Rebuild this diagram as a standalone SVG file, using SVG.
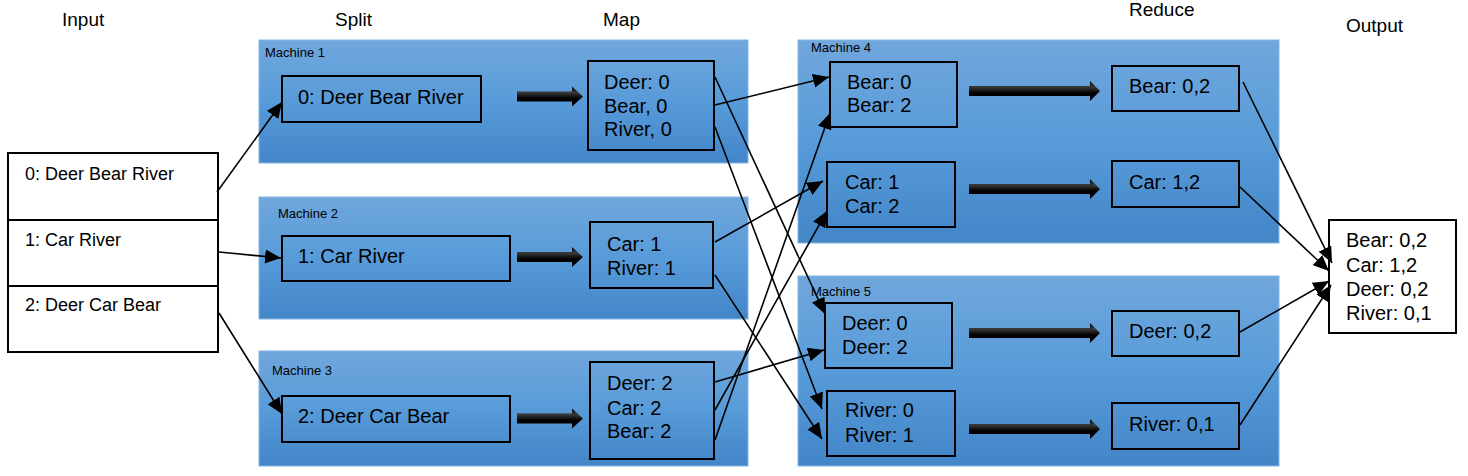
<svg xmlns="http://www.w3.org/2000/svg" width="1468" height="476" viewBox="0 0 1468 476">
<style>
text{font-family:"Liberation Sans",Arial,sans-serif;fill:#000}
.hdr{font-size:19px}
.lbl{font-size:13px}
.t{font-size:20px}
.ti{font-size:18px}
.panel{fill:url(#pg);stroke:#86b6e3;stroke-width:1}
.box{fill:none;stroke:#000;stroke-width:2}
.wbox{fill:#fff;stroke:#000;stroke-width:2}
.con{fill:none;stroke:#000;stroke-width:1.6;marker-end:url(#ah)}
.fat{fill:url(#ag)}
</style>
<defs>
<linearGradient id="pg" x1="0" y1="0" x2="0" y2="1">
<stop offset="0" stop-color="#70a7dc"/>
<stop offset="0.5" stop-color="#589bd9"/>
<stop offset="1" stop-color="#4386c8"/>
</linearGradient>
<linearGradient id="ag" x1="0" y1="0" x2="0" y2="1">
<stop offset="0" stop-color="#000"/>
<stop offset="0.3" stop-color="#3a3a3a"/>
<stop offset="0.6" stop-color="#000"/>
<stop offset="1" stop-color="#000"/>
</linearGradient>
<marker id="ah" viewBox="0 0 16 14" markerUnits="userSpaceOnUse" markerWidth="16" markerHeight="14" refX="16" refY="7" orient="auto">
<path d="M0,0 L16,7 L0,14 Z" fill="#000"/>
</marker>
<path id="fa" d="M0,-5 H55 V-10 L66,0 L55,10 V5 H0 Z"/>
<path id="fb" d="M0,-5 H121 V-10 L131,0 L121,10 V5 H0 Z"/>
</defs>

<g id="headers">
<text class="hdr" x="62" y="26">Input</text>
<text class="hdr" x="335" y="26">Split</text>
<text class="hdr" x="603" y="26">Map</text>
<text class="hdr" x="1129" y="16">Reduce</text>
<text class="hdr" x="1346" y="32">Output</text>
</g>

<g id="machine1">
<rect class="panel" x="259" y="40" width="489" height="123"/>
<text class="lbl" x="265" y="57">Machine 1</text>
</g>
<g id="machine2">
<rect class="panel" x="259" y="197" width="489" height="122"/>
<text class="lbl" x="278" y="218">Machine 2</text>
</g>
<g id="machine3">
<rect class="panel" x="259" y="351" width="489" height="115"/>
<text class="lbl" x="272" y="375">Machine 3</text>
</g>
<g id="machine4">
<rect class="panel" x="798" y="40" width="481" height="203"/>
<text class="lbl" x="811" y="52">Machine 4</text>
</g>
<g id="machine5">
<rect class="panel" x="798" y="276" width="481" height="190"/>
<text class="lbl" x="811" y="296">Machine 5</text>
</g>

<g id="input">
<rect class="wbox" x="8" y="153" width="210" height="199"/>
<line x1="8" y1="220" x2="218" y2="220" stroke="#000" stroke-width="2"/>
<line x1="8" y1="286" x2="218" y2="286" stroke="#000" stroke-width="2"/>
<text class="ti" x="25" y="180">0: Deer Bear River</text>
<text class="ti" x="25" y="246">1: Car River</text>
<text class="ti" x="25" y="311">2: Deer Car Bear</text>
</g>

<g id="split1">
<rect class="box" x="282" y="76" width="199" height="46"/>
<text class="t" x="298" y="104">0: Deer Bear River</text>
</g>
<g id="split2">
<rect class="box" x="282" y="236" width="228" height="45"/>
<text class="t" x="298" y="263">1: Car River</text>
</g>
<g id="split3">
<rect class="box" x="282" y="396" width="228" height="46"/>
<text class="t" x="298" y="423">2: Deer Car Bear</text>
</g>

<g id="map1">
<rect class="box" x="588" y="61" width="126" height="89"/>
<text class="t" x="604" y="89">Deer: 0</text>
<text class="t" x="604" y="113">Bear, 0</text>
<text class="t" x="604" y="136">River, 0</text>
</g>
<g id="map2">
<rect class="box" x="590" y="222" width="123" height="66"/>
<text class="t" x="607" y="251">Car: 1</text>
<text class="t" x="607" y="275">River: 1</text>
</g>
<g id="map3">
<rect class="box" x="590" y="362" width="124" height="97"/>
<text class="t" x="607" y="390">Deer: 2</text>
<text class="t" x="607" y="415">Car: 2</text>
<text class="t" x="607" y="438">Bear: 2</text>
</g>

<g id="shuffleBear">
<rect class="box" x="830" y="62" width="127" height="65"/>
<text class="t" x="847" y="89">Bear: 0</text>
<text class="t" x="847" y="112">Bear: 2</text>
</g>
<g id="shuffleCar">
<rect class="box" x="827" y="162" width="128" height="65"/>
<text class="t" x="845" y="189">Car: 1</text>
<text class="t" x="845" y="213">Car: 2</text>
</g>
<g id="shuffleDeer">
<rect class="box" x="825" y="303" width="127" height="65"/>
<text class="t" x="842" y="330">Deer: 0</text>
<text class="t" x="842" y="354">Deer: 2</text>
</g>
<g id="shuffleRiver">
<rect class="box" x="827" y="391" width="128" height="65"/>
<text class="t" x="845" y="417">River: 0</text>
<text class="t" x="845" y="442">River: 1</text>
</g>

<g id="reduceBear">
<rect class="box" x="1112" y="66" width="127" height="45"/>
<text class="t" x="1129" y="93">Bear: 0,2</text>
</g>
<g id="reduceCar">
<rect class="box" x="1112" y="161" width="127" height="46"/>
<text class="t" x="1129" y="189">Car: 1,2</text>
</g>
<g id="reduceDeer">
<rect class="box" x="1112" y="311" width="127" height="45"/>
<text class="t" x="1129" y="338">Deer: 0,2</text>
</g>
<g id="reduceRiver">
<rect class="box" x="1112" y="403" width="127" height="46"/>
<text class="t" x="1129" y="431">River: 0,1</text>
</g>

<g id="output">
<rect class="wbox" x="1329" y="220" width="127" height="113"/>
<text class="t" x="1346" y="247">Bear: 0,2</text>
<text class="t" x="1346" y="272">Car: 1,2</text>
<text class="t" x="1346" y="296">Deer: 0,2</text>
<text class="t" x="1346" y="320">River: 0,1</text>
</g>

<g id="connectors">
<use href="#fa" class="fat" x="517" y="96.5"/>
<use href="#fa" class="fat" x="517" y="257"/>
<use href="#fa" class="fat" x="517" y="418.5"/>
<use href="#fb" class="fat" x="969" y="91"/>
<use href="#fb" class="fat" x="969" y="189"/>
<use href="#fb" class="fat" x="969" y="333"/>
<use href="#fb" class="fat" x="969" y="429"/>

<line class="con" x1="217" y1="192" x2="282" y2="102"/>
<line class="con" x1="219" y1="252" x2="281" y2="258"/>
<line class="con" x1="219" y1="313" x2="282" y2="414"/>

<line class="con" x1="715" y1="105" x2="829" y2="77"/>
<line class="con" x1="715" y1="77" x2="825" y2="314"/>
<line class="con" x1="715" y1="127" x2="822" y2="409"/>
<line class="con" x1="715" y1="242" x2="823" y2="181"/>
<line class="con" x1="715" y1="275" x2="822" y2="439"/>
<line class="con" x1="715" y1="382" x2="824" y2="350"/>
<line class="con" x1="715" y1="410" x2="827" y2="211"/>
<line class="con" x1="715" y1="440" x2="830" y2="113"/>

<line class="con" x1="1243" y1="82" x2="1332" y2="263"/>
<line class="con" x1="1240" y1="187" x2="1329" y2="271"/>
<line class="con" x1="1240" y1="332" x2="1329" y2="281"/>
<line class="con" x1="1240" y1="425" x2="1331" y2="285"/>
</g>
</svg>
